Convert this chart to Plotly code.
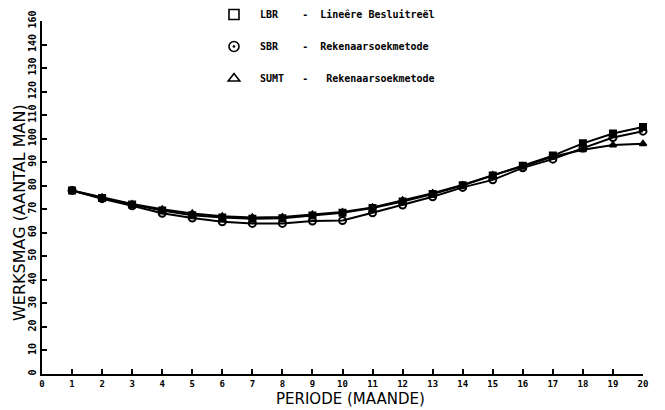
import plotly.graph_objects as go

periods = list(range(1, 21))
lbr = [78, 74.8, 72, 69.5, 67.5, 66.5, 66, 66.2, 67.3, 68.5, 70.5, 73.3, 76.5, 80.2, 84.3, 88.5, 92.8, 98, 102.2, 105]
sbr = [78, 74.5, 71.5, 68.3, 66.3, 64.7, 64, 64, 65, 65.2, 68.5, 71.8, 75.3, 79.3, 82.5, 87.6, 91.3, 96, 100.5, 103.2]
sumt = [78, 75, 72.2, 70, 68.2, 67, 66.5, 66.7, 67.7, 68.8, 70.8, 73.8, 76.8, 80.3, 84.5, 88.3, 92.3, 95.3, 97.3, 97.8]

x_ticks = list(range(0, 21))
y_ticks = list(range(0, 151, 10))
y_ticktext = ["0", "10", "20", "30", "40", "50", "60", "70", "80", "90", "100", "110", "120", "130", "140", "160"]

legend_names = [
    "\u00a0LBR\u00a0\u00a0\u00a0\u00a0-\u00a0\u00a0Line\u00eare Besluitre\u00ebl",
    "\u00a0SBR\u00a0\u00a0\u00a0\u00a0-\u00a0\u00a0Rekenaarsoekmetode",
    "\u00a0SUMT\u00a0\u00a0\u00a0-\u00a0\u00a0\u00a0Rekenaarsoekmetode",
]

FONT = "DejaVu Sans Mono"
W, H = 665, 410
ML, MR, MT, MB = 42, 22, 21, 36
fig = go.Figure()

series = [
    (lbr, "square", 6, "square-open"),
    (sbr, "circle-open", 7, "circle-open-dot"),
    (sumt, "triangle-up", 6, "triangle-up-open"),
]
for i, (vals, sym, size, legsym) in enumerate(series):
    fig.add_trace(go.Scatter(
        x=periods, y=vals, mode="lines+markers",
        line=dict(color="black", width=2),
        marker=dict(symbol=sym, size=size, color="black", line=dict(color="black", width=2)),
        showlegend=False, cliponaxis=False,
    ))
for i, (vals, sym, size, legsym) in enumerate(series):
    fig.add_trace(go.Scatter(
        x=[None], y=[None], mode="markers", name=legend_names[i],
        legendgroup=f"g{i}",
        marker=dict(symbol=legsym, size=10, color="black", line=dict(color="black", width=1.6)),
    ))

pw = W - ML - MR
ph = H - MT - MB

fig.update_layout(
    width=W, height=H,
    margin=dict(l=ML, r=MR, t=MT, b=MB, autoexpand=False),
    paper_bgcolor="white", plot_bgcolor="white",
    font=dict(family=FONT, color="black"),
    showlegend=True,
    legend=dict(
        x=214 / W, xref="container", y=1.0, yref="container", yanchor="top", xanchor="left",
        font=dict(family=FONT, size=10, color="black", weight="bold"),
        tracegroupgap=13, bgcolor="rgba(0,0,0,0)", itemwidth=30,
    ),
    xaxis=dict(
        range=[0, 20], tickvals=x_ticks, ticktext=[str(v) for v in x_ticks],
        showgrid=False, zeroline=False, showline=True, linecolor="black", linewidth=2,
        ticks="inside", ticklen=5, tickcolor="black", tickwidth=1.5,
        tickfont=dict(family=FONT, size=9, color="black", weight="bold"),
    ),
    yaxis=dict(
        range=[0, 150], tickvals=y_ticks, ticktext=y_ticktext, tickangle=-90,
        showgrid=False, zeroline=False, showline=True, linecolor="black", linewidth=2,
        ticks="inside", ticklen=5, tickcolor="black", tickwidth=1.5,
        tickfont=dict(family=FONT, size=10, color="black", weight="bold"),
    ),
    annotations=[
        dict(text="WERKSMAG (AANTAL MAN)", xref="paper", yref="paper",
             x=(19 - ML) / pw, y=(H - MB - 213) / ph,
             showarrow=False, textangle=-90, font=dict(family="DejaVu Sans", size=16, color="black"),
             xanchor="center", yanchor="middle"),
        dict(text="PERIODE (MAANDE)", xref="paper", yref="paper",
             x=(350 - ML) / pw, y=(H - MB - 399) / ph,
             showarrow=False,
             font=dict(family="DejaVu Sans", size=15, color="black"), xanchor="center", yanchor="middle"),
    ],
)

fig.write_html("out.html")
